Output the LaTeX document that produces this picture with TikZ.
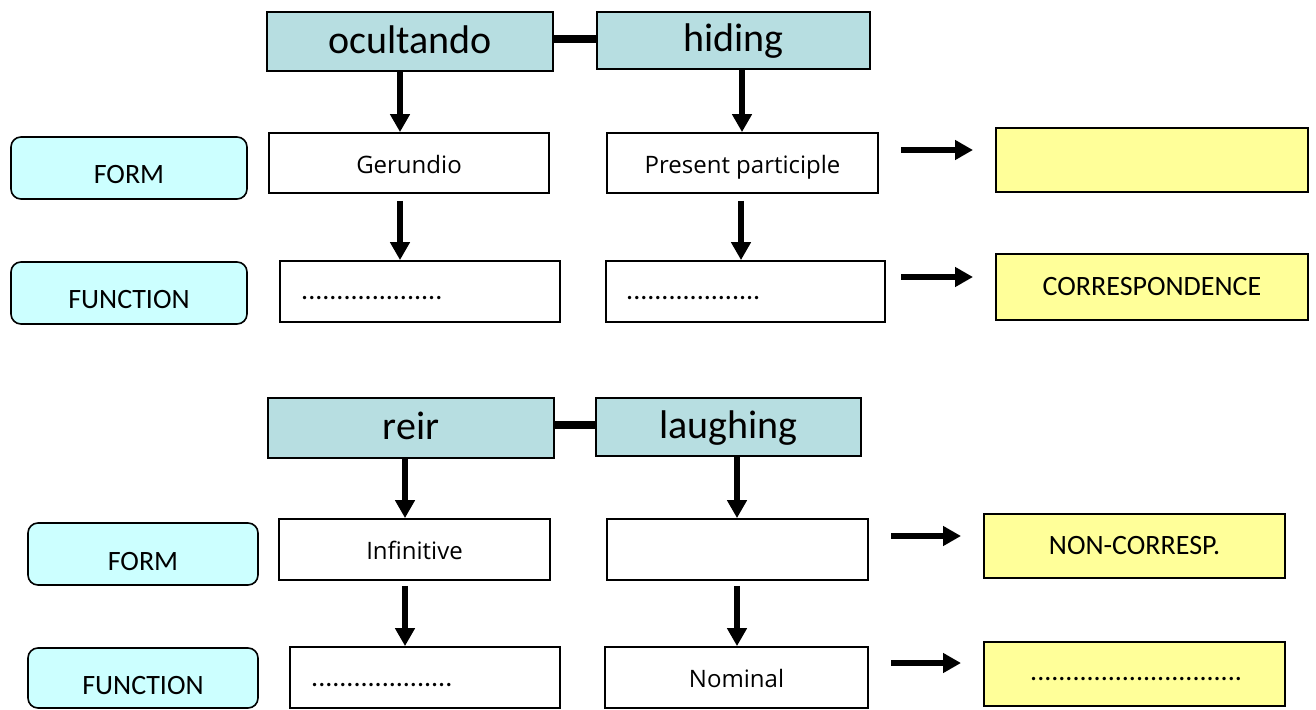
\documentclass[tikz,border=0pt]{standalone}
\usepackage{fontspec}
\setmainfont{Carlito}
\newfontfamily\uifont{Open Sans}
\usetikzlibrary{arrows.meta}
\definecolor{headteal}{RGB}{183,222,225}
\definecolor{sidecyan}{RGB}{204,255,255}
\definecolor{noteyellow}{RGB}{255,255,153}
\tikzset{
  wordbox/.style={draw, line width=1.8pt, fill=headteal, inner sep=0pt,
    font=\fontsize{40}{44}\selectfont, text height=30pt, text depth=7pt},
  sidebox/.style={draw, line width=1.6pt, fill=sidecyan, rounded corners=10pt, inner sep=0pt},
  plainbox/.style={draw, line width=1.8pt, fill=white, inner sep=0pt,
    font=\uifont\fontsize{24}{28}\selectfont, text height=24pt, text depth=4pt},
  notebox/.style={draw, line width=1.8pt, fill=noteyellow, inner sep=0pt,
    font=\fontsize{28}{30}\selectfont, text height=20pt, text depth=4pt},
  sidelabel/.style={font=\fontsize{28}{30}\selectfont, inner sep=0pt},
  dotlabel/.style={font=\fontsize{28}{30}\selectfont, inner sep=0pt, anchor=base west},
  flow/.style={line width=6.5pt, -{Triangle[width=19pt,length=18pt]}},
  pairlink/.style={line width=8pt},
}
\newcommand{\boxdots}[1]{\foreach \k in {1,...,#1}{.}}
\begin{document}
\begin{tikzpicture}[x=1pt,y=-1pt]
\useasboundingbox (0,0) rectangle (1316,709);

% ---------- upper group ----------
\node[wordbox, minimum width=286pt, minimum height=59pt] (ocultando) at (410,41.5) {ocultando};
\node[wordbox, minimum width=273pt, minimum height=57pt] (hiding) at (733.5,40.5) {hiding};
\draw[pairlink] (ocultando.east |- 0,39) -- (hiding.west |- 0,39);

\node[sidebox, minimum width=236pt, minimum height=62pt] (formA) at (129,168) {};
\node[sidelabel] (formAtext) at ([yshift=-7pt]formA.center) {FORM};
\node[plainbox, minimum width=280pt, minimum height=60pt] (gerundio) at (409,163) {Gerundio};
\node[plainbox, minimum width=271pt, minimum height=60pt] (ppart) at (742.5,163) {Present participle};
\node[notebox, minimum width=312pt, minimum height=64pt] (noteA1) at (1152,160) {};

\node[sidebox, minimum width=236pt, minimum height=62pt] (funcA) at (129,293) {};
\node[sidelabel] (funcAtext) at ([yshift=-7pt]funcA.center) {FUNCTION};
\node[plainbox, minimum width=280pt, minimum height=61pt] (dotsA1) at (420,291.5) {};
\node[dotlabel] (dotsA1text) at (301,299.5) {\boxdots{20}};
\node[plainbox, minimum width=279pt, minimum height=61pt] (dotsA2) at (745.5,291.5) {};
\node[dotlabel] (dotsA2text) at (626,299.5) {\boxdots{19}};
\node[notebox, minimum width=312pt, minimum height=66pt] (noteA2) at (1152,287) {CORRESPONDENCE};

\draw[flow] (ocultando.south -| 400,0) -- (gerundio.north -| 400,0);
\draw[flow] (hiding.south -| 742,0) -- (ppart.north -| 742,0);
\draw[flow] ([yshift=-7pt]gerundio.south -| 400,0) -- (dotsA1.north -| 400,0);
\draw[flow] ([yshift=-7pt]ppart.south -| 741,0) -- (dotsA2.north -| 741,0);

\coordinate (hA1s) at (901,150);
\coordinate (hA1e) at (973,150);
\coordinate (hA2s) at (901,277);
\coordinate (hA2e) at (973,277);
\draw[flow] (hA1s) -- (hA1e);
\draw[flow] (hA2s) -- (hA2e);

% ---------- lower group ----------
\node[wordbox, minimum width=286pt, minimum height=60pt] (reir) at (411,428) {reir};
\node[wordbox, minimum width=265pt, minimum height=58pt] (laughing) at (728.5,427) {laughing};
\draw[pairlink] (reir.east |- 0,425) -- (laughing.west |- 0,425);

\node[sidebox, minimum width=230pt, minimum height=62pt] (formB) at (143,554) {};
\node[sidelabel] (formBtext) at ([yshift=-8pt]formB.center) {FORM};
\node[plainbox, minimum width=271pt, minimum height=61pt] (infinitive) at (414.5,549.5) {Infinitive};
\node[plainbox, minimum width=261pt, minimum height=61pt] (emptyB) at (737.5,549.5) {};
\node[notebox, minimum width=301pt, minimum height=64pt] (noteB1) at (1134.5,546) {NON-CORRESP.};

\node[sidebox, minimum width=230pt, minimum height=60pt] (funcB) at (143,678) {};
\node[sidelabel] (funcBtext) at ([yshift=-8pt]funcB.center) {FUNCTION};
\node[plainbox, minimum width=270pt, minimum height=61pt] (dotsB) at (425,677.5) {};
\node[dotlabel] (dotsBtext) at (311,686) {\boxdots{20}};
\node[plainbox, minimum width=263pt, minimum height=61pt] (nominal) at (736.5,677.5) {Nominal};
\node[notebox, minimum width=301pt, minimum height=64pt] (noteB2) at (1134.5,674) {};
\node[dotlabel] (noteB2text) at (1030,680) {\boxdots{30}};

\draw[flow] (reir.south -| 405,0) -- (infinitive.north -| 405,0);
\draw[flow] (laughing.south -| 737,0) -- (emptyB.north -| 737,0);
\draw[flow] ([yshift=-5pt]infinitive.south -| 405,0) -- (dotsB.north -| 405,0);
\draw[flow] ([yshift=-5pt]emptyB.south -| 737,0) -- (nominal.north -| 737,0);

\coordinate (hB1s) at (891,536);
\coordinate (hB1e) at (961,536);
\coordinate (hB2s) at (891,663);
\coordinate (hB2e) at (961,663);
\draw[flow] (hB1s) -- (hB1e);
\draw[flow] (hB2s) -- (hB2e);
\end{tikzpicture}
\end{document}
